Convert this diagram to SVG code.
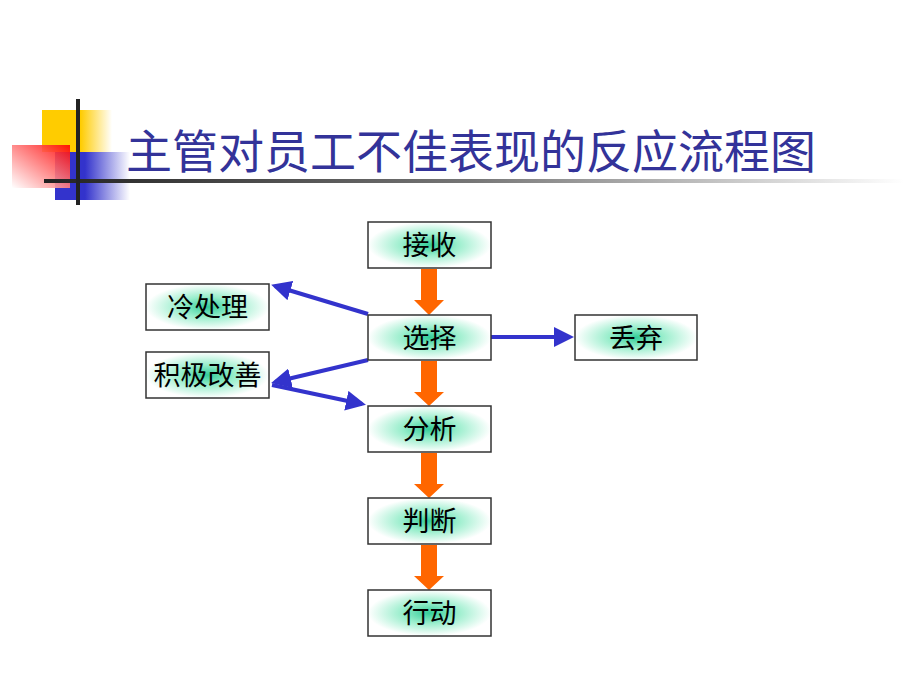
<svg xmlns="http://www.w3.org/2000/svg" width="920" height="690" viewBox="0 0 920 690">
<defs>
<linearGradient id="gy" x1="0" y1="0" x2="1" y2="0"><stop offset="0" stop-color="#ffcc00"/><stop offset="0.55" stop-color="#ffcc00"/><stop offset="1" stop-color="#ffffff"/></linearGradient>
<linearGradient id="gr" x1="1" y1="0" x2="0" y2="1"><stop offset="0" stop-color="#ff0000"/><stop offset="1" stop-color="#ffffff"/></linearGradient>
<linearGradient id="gb" x1="0" y1="0" x2="1" y2="0"><stop offset="0" stop-color="#3333cc"/><stop offset="0.4" stop-color="#3333cc"/><stop offset="1" stop-color="#ffffff"/></linearGradient>
<linearGradient id="gl" x1="0" y1="0" x2="1" y2="0"><stop offset="0" stop-color="#222222"/><stop offset="0.5" stop-color="#777777"/><stop offset="1" stop-color="#ffffff"/></linearGradient>
<radialGradient id="gg" cx="0.5" cy="0.5" r="0.5"><stop offset="0" stop-color="#33cc99"/><stop offset="0.45" stop-color="#99eecc"/><stop offset="1" stop-color="#ffffff"/></radialGradient>
<marker id="ab" markerWidth="5" markerHeight="5" refX="4" refY="2.5" orient="auto" markerUnits="strokeWidth"><path d="M0,0 L5,2.5 L0,5 z" fill="#3333cc"/></marker>
</defs>
<style>
.box{fill:url(#gg);stroke:#333333;stroke-width:1.5}
.lbl{font-family:"Liberation Serif","Noto Sans CJK SC",serif;font-size:27px;fill:#000;text-anchor:middle}
.blue{stroke:#3333cc;stroke-width:4;fill:none;marker-end:url(#ab)}
.org{fill:#ff6600}
</style>
<rect width="920" height="690" fill="#ffffff"/>
<g id="logo">
<rect x="42" y="110" width="70" height="42" fill="url(#gy)"/>
<rect x="55" y="152" width="75" height="48" fill="url(#gb)"/>
<rect x="12" y="145" width="58" height="43" fill="url(#gr)" opacity="0.9"/>
<rect x="44" y="179" width="860" height="4" fill="url(#gl)"/>
<rect x="76" y="99" width="4" height="106" fill="#222222"/>
</g>
<text id="title" x="126" y="168" font-family="Liberation Serif,'Noto Sans CJK SC',serif" font-size="46" fill="#333399">主管对员工不佳表现的反应流程图</text>
<g id="connectors">
<path class="org" d="M421,269 H437 V300 H444 L429,315 L414,300 H421 Z"/>
<path class="org" d="M421,361 H437 V392 H444 L429,406 L414,392 H421 Z"/>
<path class="org" d="M421,453 H437 V484 H444 L429,498 L414,484 H421 Z"/>
<path class="org" d="M421,545 H437 V576 H444 L429,590 L414,576 H421 Z"/>
<line class="blue" x1="368" y1="314" x2="275" y2="286"/>
<line class="blue" x1="368" y1="360" x2="275" y2="382"/>
<line class="blue" x1="272" y1="385" x2="362" y2="404"/>
<line class="blue" x1="491" y1="337" x2="570" y2="337"/>
</g>
<g id="n1"><rect class="box" x="368" y="222" width="123" height="46"/><text class="lbl" x="429.5" y="255">接收</text></g>
<g id="n2"><rect class="box" x="368" y="315" width="123" height="45"/><text class="lbl" x="429.5" y="348">选择</text></g>
<g id="n3"><rect class="box" x="368" y="406" width="123" height="46"/><text class="lbl" x="429.5" y="439">分析</text></g>
<g id="n4"><rect class="box" x="368" y="498" width="123" height="46"/><text class="lbl" x="429.5" y="531">判断</text></g>
<g id="n5"><rect class="box" x="368" y="590" width="123" height="46"/><text class="lbl" x="429.5" y="623">行动</text></g>
<g id="n6"><rect class="box" x="146" y="284" width="123" height="46"/><text class="lbl" x="207.5" y="317">冷处理</text></g>
<g id="n7"><rect class="box" x="146" y="352" width="123" height="46"/><text class="lbl" x="207.5" y="385">积极改善</text></g>
<g id="n8"><rect class="box" x="575" y="315" width="122" height="45"/><text class="lbl" x="636" y="348">丢弃</text></g>
</svg>
